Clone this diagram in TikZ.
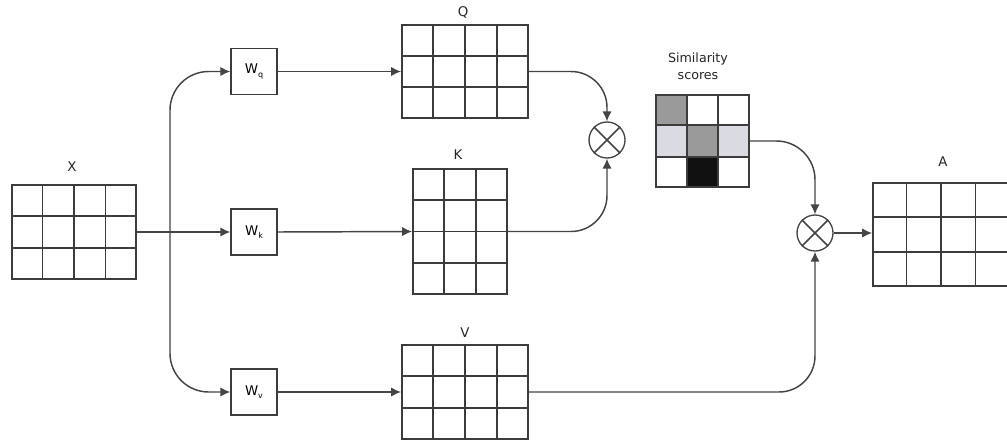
\documentclass[tikz,border=0pt]{standalone}
\usepackage{fontspec}
\setmainfont{DejaVu Sans}
\usetikzlibrary{calc,arrows.meta}

\definecolor{gridc}{HTML}{3C3C3C}
\definecolor{linec}{HTML}{444444}
\definecolor{midgray}{HTML}{9A9A9A}
\definecolor{lightgray}{HTML}{DADAE2}
\definecolor{darkcell}{HTML}{111111}

% inner grid lines of a matrix node: #1 name, #2 columns, #3 rows
\newcommand\matgrid[3]{%
  \pgfmathtruncatemacro\ncols{#2-1}%
  \pgfmathtruncatemacro\nrows{#3-1}%
  \foreach \k in {1,...,\ncols}
    \draw[gridline] ($(#1.north west)!\k/#2!(#1.north east)$) -- ($(#1.south west)!\k/#2!(#1.south east)$);
  \foreach \k in {1,...,\nrows}
    \draw[gridline] ($(#1.north west)!\k/#3!(#1.south west)$) -- ($(#1.north east)!\k/#3!(#1.south east)$);
}

% subscripted weight name
\newcommand\wname[1]{W\raisebox{-0.45ex}{\fontsize{6}{6}\selectfont #1}}

\begin{document}
\begin{tikzpicture}[x=0.75pt,y=-0.75pt,
  gridline/.style={draw=gridc,line width=1.4pt},
  mat/.style={draw=gridc,line width=1.4pt,inner sep=0pt,rectangle},
  wbox/.style={draw=gridc,line width=1pt,minimum size=34.5pt,inner sep=0pt,
    font=\fontsize{10}{12}\selectfont},
  mult/.style={circle,draw=linec,line width=1pt,minimum size=27pt,inner sep=0pt},
  lbl/.style={font=\fontsize{10}{12}\selectfont,text=black!85,inner sep=0pt},
  conn/.style={draw=linec,line width=1.1pt},
  arr/.style={conn,-{Latex[length=7.5pt,width=7pt]}},
]
\useasboundingbox (0,0) rectangle (1007,447);

% matrices
\node[mat,minimum width=93pt,minimum height=70.5pt] (X) at (74,232) {};
\node[mat,minimum width=94.5pt,minimum height=69.75pt] (Q) at (465,71.5) {};
\node[mat,minimum width=70.5pt,minimum height=93.75pt] (K) at (460,231.5) {};
\node[mat,minimum width=94.5pt,minimum height=70.5pt] (V) at (465,392) {};
\node[mat,minimum width=102pt,minimum height=77.25pt] (A) at (941,234.5) {};

% similarity scores with shaded cells
\fill[midgray] (656,95) rectangle (687,126);
\fill[lightgray] (656,126) rectangle (687,157);
\fill[midgray] (687,126) rectangle (718,157);
\fill[lightgray] (718,126) rectangle (749,157);
\fill[darkcell] (687,157) rectangle (718,187);
\node[mat,minimum width=69.75pt,minimum height=69pt] (S) at (702.5,141) {};

\matgrid{X}{4}{3}
\matgrid{Q}{4}{3}
\matgrid{K}{3}{4}
\matgrid{V}{4}{3}
\matgrid{A}{4}{3}
\matgrid{S}{3}{3}

% labels
\node[lbl] (lX) at (72,167) {X};
\node[lbl] (lQ) at (463,12) {Q};
\node[lbl] (lK) at (458,155) {K};
\node[lbl] (lV) at (465,333) {V};
\node[lbl] (lA) at (943,162) {A};
\node[lbl,align=center,font=\fontsize{9.5}{13}\selectfont] (lS) at (698,66) {Similarity\\scores};

% weight boxes
\node[wbox] (Wq) at (254,71.5) {\wname{q}};
\node[wbox] (Wk) at (254,232) {\wname{k}};
\node[wbox] (Wv) at (254,392) {\wname{v}};

% multiplication nodes
\node[mult] (M1) at (607,140) {};
\node[mult] (M2) at (815,233) {};
\draw[conn] (M1.north east) -- (M1.south west) (M1.north west) -- (M1.south east);
\draw[conn] (M2.north east) -- (M2.south west) (M2.north west) -- (M2.south east);

% input fan-out
\coordinate (br) at (170,232);
\draw[arr] (X.east) -- (Wk.west);
\draw[arr,rounded corners=29pt] (br) |- (Wq.west);
\draw[arr,rounded corners=29pt] (br) |- (Wv.west);

% projections
\draw[arr] (Wq.east) -- (Q.west);
\draw[arr] (Wk.east) -- (K.west);
\draw[arr] (Wv.east) -- (V.west);

% attention products
\draw[arr,rounded corners=27pt] (Q.east) -| (M1.north);
\draw[arr,rounded corners=27pt] (K.east) -| (M1.south);
\draw[arr,rounded corners=29pt] (S.east) -| (M2.north);
\draw[arr,rounded corners=27pt] (V.east) -| (M2.south);
\draw[arr] (M2.east) -- (A.west |- M2.east);
\end{tikzpicture}
\end{document}
